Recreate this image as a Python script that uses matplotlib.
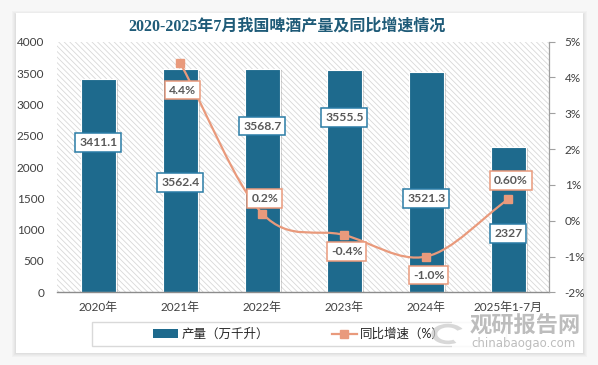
import numpy as np
import matplotlib
matplotlib.use('Agg')
import matplotlib.pyplot as plt
from matplotlib.patches import Rectangle, Patch, PathPatch, Wedge
from matplotlib.path import Path
from matplotlib.lines import Line2D
import matplotlib.patheffects as pe

plt.rcParams['font.family'] = ['Lato', 'Noto Sans CJK SC', 'DejaVu Sans']
plt.rcParams['hatch.linewidth'] = 0.6

# ---------------- data ----------------
categories = ['2020年', '2021年', '2022年', '2023年', '2024年', '2025年1-7月']
output = [3411.1, 3562.4, 3568.7, 3555.5, 3521.3, 2327]
output_labels = ['3411.1', '3562.4', '3568.7', '3555.5', '3521.3', '2327']
growth_categories = categories[1:]
growth = [4.4, 0.2, -0.4, -1.0, 0.6]
growth_labels = ['4.4%', '0.2%', '-0.4%', '-1.0%', '0.60%']
left_ticks = [0, 500, 1000, 1500, 2000, 2500, 3000, 3500, 4000]
right_ticks = [-2, -1, 0, 1, 2, 3, 4, 5]
right_tick_labels = ['-2%', '-1%', '0%', '1%', '2%', '3%', '4%', '5%']
title = '2020-2025年7月我国啤酒产量及同比增速情况'
legend_labels = ['产量（万千升）', '同比增速（%）']

# ---------------- layout / style ----------------
bar_label_y = [2388, 1756, 2654, 2793, 1500, 942]       # left-axis units
growth_label_y = [3.65, 0.63, -0.87, -1.52, 1.12]       # right-axis units
bar_color = '#1E6A8D'
line_color = '#E99A7C'
text_gray = '#595959'
axis_gray = '#A0A0A0'

W, H = 598, 365
fig = plt.figure(figsize=(W / 100, H / 100), dpi=100)
fig.patch.set_facecolor('#F7F7F7')

def fx(px):
    return px / W

def fy(py):
    return 1 - py / H

# card shadow + card
for i, a in enumerate([0.05, 0.05, 0.06, 0.08]):
    d = 4 - i
    fig.patches.append(Rectangle((fx(16 - d), fy(353 + d)), fx(567 + 2 * d), (338 + 2 * d) / H,
                                 transform=fig.transFigure, facecolor='#909090', alpha=a,
                                 edgecolor='none', zorder=-20))
fig.patches.append(Rectangle((fx(16), fy(353)), fx(567), 340 / H, transform=fig.transFigure,
                             facecolor='white', edgecolor='none', zorder=-10))

ax = fig.add_axes([fx(57.3), fy(292.3), fx(549.3 - 57.3), (292.3 - 41.7) / H])
ax.patch.set_visible(False)
ax.add_patch(Rectangle((0, 0), 1, 1, transform=ax.transAxes, facecolor='white',
                       edgecolor='#D8D8D8', hatch='\\\\\\\\\\\\', lw=0, zorder=0))

x = np.arange(len(categories))
ax.bar(x, output, width=0.43, color=bar_color, edgecolor='white', lw=0.8, zorder=2,
       path_effects=[pe.SimplePatchShadow(offset=(1.5, -1.0), shadow_rgbFace='#808080', alpha=0.35),
                     pe.Normal()])
ax.set_xlim(-0.5, len(categories) - 0.5)
ax.set_ylim(0, 4000)
ax.set_yticks(left_ticks)
ax.set_yticklabels([str(t) for t in left_ticks])
ax.set_xticks(x)
ax.set_xticklabels(categories)
ax.tick_params(axis='y', length=0, pad=9.5, labelsize=8.5, labelcolor='#404040')
ax.tick_params(axis='x', length=0, pad=6.5, labelsize=8.5, labelcolor='#404040')
for s in ['left', 'top', 'right']:
    ax.spines[s].set_visible(False)
ax.spines['bottom'].set_color('#8C8C8C')
ax.spines['bottom'].set_linewidth(1.0)

ax2 = ax.twinx()
ax2.set_ylim(-2, 5)
ax2.set_yticks(right_ticks)
ax2.set_yticklabels(right_tick_labels)
ax2.tick_params(axis='y', length=4, width=0.8, color=axis_gray, pad=7,
                labelsize=8.5, labelcolor='#404040', direction='out')
for s in ['left', 'top', 'bottom']:
    ax2.spines[s].set_visible(False)
ax2.spines['right'].set_color(axis_gray)
ax2.spines['right'].set_linewidth(0.9)

# smoothed growth line (cubic Bezier through the data points)
gx = x[1:].astype(float)
gy = np.array(growth, dtype=float)
n = len(gx)
m = np.zeros(n)
for i in range(n):
    if i == 0:
        m[i] = (gy[1] - gy[0]) / (gx[1] - gx[0])
    elif i == n - 1:
        m[i] = (gy[-1] - gy[-2]) / (gx[-1] - gx[-2])
    else:
        m[i] = (gy[i + 1] - gy[i - 1]) / (gx[i + 1] - gx[i - 1])
verts = [(gx[0], gy[0])]
codes = [Path.MOVETO]
for i in range(n - 1):
    dx = (gx[i + 1] - gx[i]) / 3
    verts += [(gx[i] + dx, gy[i] + m[i] * dx), (gx[i + 1] - dx, gy[i + 1] - m[i + 1] * dx),
              (gx[i + 1], gy[i + 1])]
    codes += [Path.CURVE4] * 3
ax2.add_patch(PathPatch(Path(verts, codes), facecolor='none', edgecolor=line_color, lw=1.6,
                        zorder=3))
ax2.plot(gx, gy, 's', ms=6, color=line_color, zorder=4)

# data labels
for xi, yl, lab in zip(x, bar_label_y, output_labels):
    ax2.text(xi, yl, lab, transform=ax.transData, ha='center', va='center', fontsize=8.7,
             fontweight='bold', color=text_gray, zorder=6,
             bbox=dict(boxstyle='square,pad=0.32', fc='white', ec='#2A7CA6', lw=1.1))
for xi, yl, lab in zip(gx, growth_label_y, growth_labels):
    ax2.text(xi + 0.03, yl, lab, ha='center', va='center', fontsize=8.7,
             fontweight='bold', color=text_gray, zorder=6,
             bbox=dict(boxstyle='square,pad=0.32', fc='white', ec=line_color, lw=1.1))

# title
fig.text(fx(287), fy(26.7), title, ha='center', va='center', fontsize=11.5, fontweight='bold',
         color='#1F5B78', family=['Liberation Serif', 'Noto Sans CJK SC'])

# legend
fig.patches.append(Rectangle((fx(92), fy(346)), fx(506 - 92), 24 / H, transform=fig.transFigure,
                             facecolor='none', edgecolor='#D9D9D9', lw=1.0, zorder=1))
handles = [Patch(facecolor=bar_color, edgecolor='none'),
           Line2D([], [], color=line_color, marker='s', ms=6, lw=1.6)]
fig.legend(handles, legend_labels, loc='center', bbox_to_anchor=(fx(299), fy(334)), ncol=2,
           frameon=False, fontsize=9, handlelength=2.0, handletextpad=0.3, columnspacing=5.0,
           labelcolor='#262626')

# watermark
fig.patches.append(Rectangle((fx(452), fy(352)), fx(129), 40 / H, transform=fig.transFigure,
                             facecolor='white', alpha=0.85, edgecolor='none', zorder=5))
fig.patches.append(Wedge((fx(448), fy(334)), 0.028, 30, 300, width=0.01, transform=fig.transFigure,
                         facecolor='#C8C8C8', alpha=0.7, edgecolor='none', zorder=6))
fig.text(fx(525), fy(326), '观研报告网', ha='center', va='center', fontsize=16, fontweight='bold',
         color='#BDBDBD', family=['Noto Sans CJK SC'], zorder=7)
fig.text(fx(523), fy(344), 'chinabaogao.com', ha='center', va='center', fontsize=8.5,
         color='#BDBDBD', family=['DejaVu Sans'], zorder=7)

fig.savefig('out.png', dpi=100, facecolor=fig.get_facecolor())
